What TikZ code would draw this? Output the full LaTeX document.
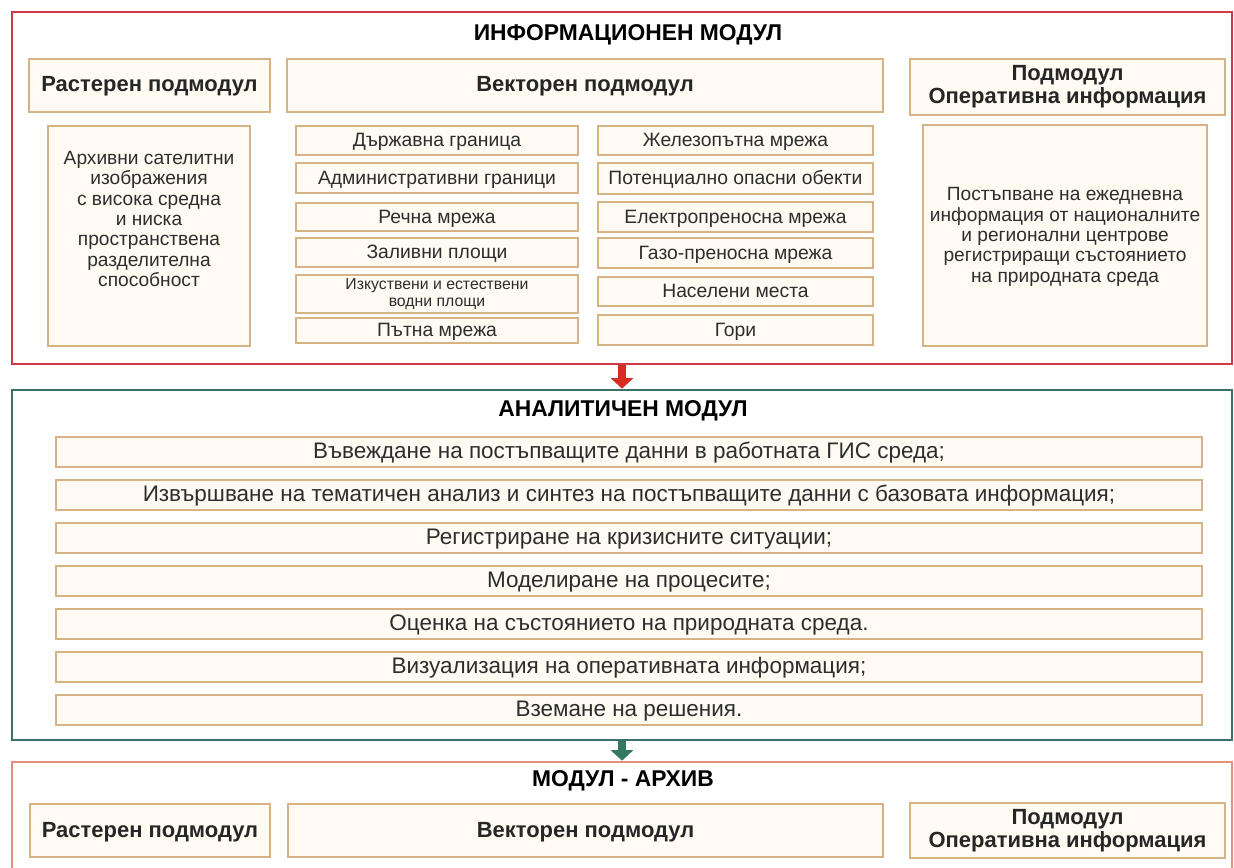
\documentclass[tikz,border=0pt]{standalone}
\usepackage{fontspec}
\setmainfont{Liberation Sans}
\usetikzlibrary{arrows.meta}
\definecolor{infored}{RGB}{205,60,70}
\definecolor{analteal}{RGB}{60,112,102}
\definecolor{archsalmon}{RGB}{226,145,125}
\definecolor{boxtan}{RGB}{214,178,132}
\definecolor{boxfill}{RGB}{255,251,243}
\definecolor{textgray}{RGB}{45,45,45}
\definecolor{arrred}{RGB}{215,45,35}
\definecolor{arrteal}{RGB}{50,120,100}
\begin{document}
\begin{tikzpicture}[x=0.02cm,y=-0.02cm]
	\tikzstyle{frame}=[draw,line width=1.5pt,fill=white,inner sep=0pt,minimum width=24.4cm]
	\tikzstyle{title}=[font=\bfseries\fontsize{13}{15}\selectfont,text=black]
	\tikzstyle{one line}=[text height=1.5ex,text depth=0.1ex]
	\tikzstyle{head}=[draw=boxtan,fill=boxfill,line width=0.7pt,inner sep=0pt,font=\bfseries\fontsize{12.5}{13.2}\selectfont,text=black!85]
	\tikzstyle{box}=[draw=boxtan,fill=boxfill,line width=0.7pt,inner sep=0pt,font=\fontsize{11}{12}\selectfont,text=textgray]
	\tikzstyle{item}=[box,one line]
	\tikzstyle{bodytext}=[align=center,inner sep=0pt,font=\fontsize{10.9}{11.6}\selectfont,text=textgray]
	\tikzstyle{step row}=[item,minimum width=22.92cm,minimum height=0.6cm,font=\fontsize{12.8}{14}\selectfont]
	\tikzstyle{down}=[line width=4.2pt,-{Triangle[width=12.5pt,length=6pt]}]
	\useasboundingbox (0,0) rectangle (1234,868);

	% informacionen modul
	\node [frame,draw=infored,minimum height=7.04cm] (info) at (622,188) {};
	\node [title] (infot) at (628,35) {ИНФОРМАЦИОНЕН МОДУЛ};
	\node [head,one line,minimum width=4.82cm,minimum height=1.06cm] (rast1) at (149.5,85.5) {Растерен подмодул};
	\node [head,one line,minimum width=11.92cm,minimum height=1.06cm] (vect1) at (585,85.5) {Векторен подмодул};
	\node [head,align=center,minimum width=6.3cm,minimum height=1.12cm] (oper1) at (1067.5,87) {Подмодул\\Оперативна информация};
	\node [box,minimum width=4.04cm,minimum height=4.4cm] (rastb) at (149,236) {};
	\node [bodytext] (rastt) at (149,219) {Архивни сателитни\\изображения\\с висока средна\\и ниска\\пространствена\\разделителна\\способност};
	\node [box,minimum width=5.68cm,minimum height=4.42cm] (operb) at (1065,235.5) {};
	\node [bodytext] (opert) at (1065,237) {Постъпване на ежедневна\\информация от националните\\и регионални центрове\\регистриращи състоянието\\на природната среда};

	\node [item,minimum width=5.64cm,minimum height=0.58cm] (v1) at (437,140.5) {Държавна граница};
	\node [item,minimum width=5.64cm,minimum height=0.6cm] (v2) at (437,178) {Административни граници};
	\node [item,minimum width=5.64cm,minimum height=0.56cm] (v3) at (437,217) {Речна мрежа};
	\node [item,minimum width=5.64cm,minimum height=0.58cm] (v4) at (437,252.5) {Заливни площи};
	\node [box,align=center,minimum width=5.64cm,minimum height=0.76cm,font=\fontsize{9}{10}\selectfont] (v5) at (437,294) {Изкуствени и естествени\\водни площи};
	\node [item,minimum width=5.64cm,minimum height=0.5cm] (v6) at (437,330.5) {Пътна мрежа};

	\node [item,minimum width=5.5cm,minimum height=0.58cm] (w1) at (735.5,140.5) {Железопътна мрежа};
	\node [item,minimum width=5.5cm,minimum height=0.62cm] (w2) at (735.5,178.5) {Потенциално опасни обекти};
	\node [item,minimum width=5.5cm,minimum height=0.6cm] (w3) at (735.5,217) {Електропреносна мрежа};
	\node [item,minimum width=5.5cm,minimum height=0.6cm] (w4) at (735.5,253) {Газо-преносна мрежа};
	\node [item,minimum width=5.5cm,minimum height=0.58cm] (w5) at (735.5,291.5) {Населени места};
	\node [item,minimum width=5.5cm,minimum height=0.6cm] (w6) at (735.5,330) {Гори};

	% analitichen modul
	\node [frame,draw=analteal,minimum height=7cm] (anal) at (622,565) {};
	\node [title] (analt) at (623,411) {АНАЛИТИЧЕН МОДУЛ};
	\node [step row] (a1) at (629,452) {Въвеждане на постъпващите данни в работната ГИС среда;};
	\node [step row] (a2) at (629,495) {Извършване на тематичен анализ и синтез на постъпващите данни с базовата информация;};
	\node [step row] (a3) at (629,538) {Регистриране на кризисните ситуации;};
	\node [step row] (a4) at (629,581) {Моделиране на процесите;};
	\node [step row] (a5) at (629,624) {Оценка на състоянието на природната среда.};
	\node [step row] (a6) at (629,667) {Визуализация на оперативната информация;};
	\node [step row] (a7) at (629,710) {Вземане на решения.};

	% modul - arhiv
	\node [frame,draw=archsalmon,minimum height=2.72cm] (arch) at (622,830) {};
	\node [title] (archt) at (623,781) {МОДУЛ - АРХИВ};
	\node [head,one line,minimum width=4.8cm,minimum height=1.06cm] (rast2) at (150,830.5) {Растерен подмодул};
	\node [head,one line,minimum width=11.9cm,minimum height=1.06cm] (vect2) at (585.5,830.5) {Векторен подмодул};
	\node [head,align=center,minimum width=6.3cm,minimum height=1.1cm] (oper2) at (1067.5,830.5) {Подмодул\\Оперативна информация};

	\draw [down,arrred] (info.south) -- (anal.north);
	\draw [down,arrteal] (anal.south) -- (arch.north);
\end{tikzpicture}
\end{document}
